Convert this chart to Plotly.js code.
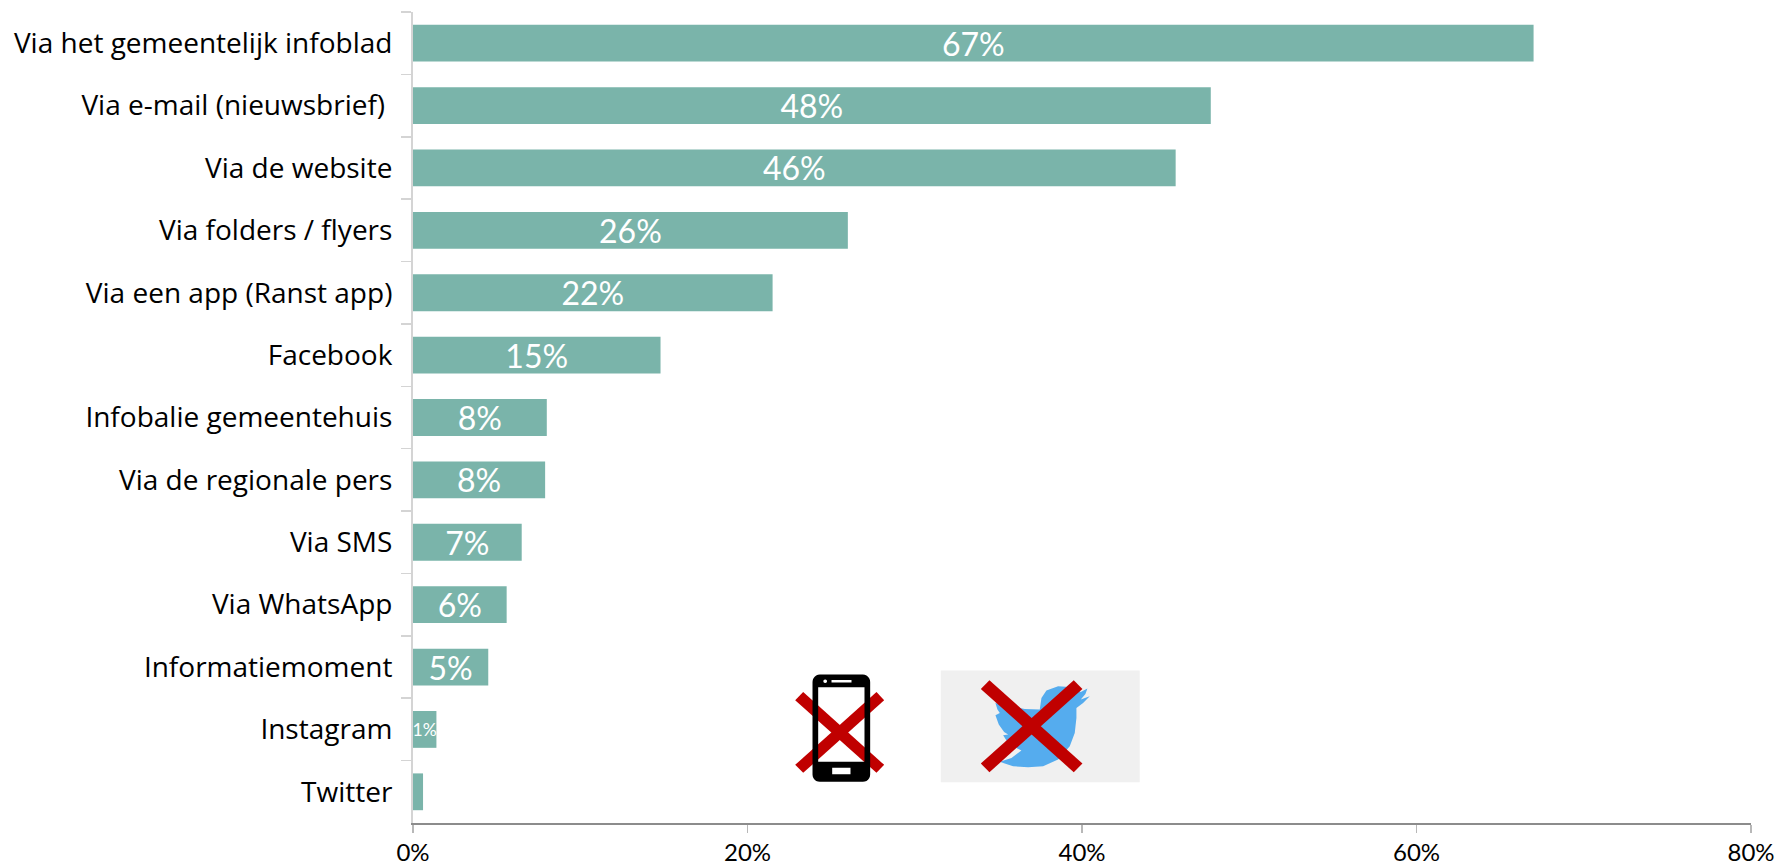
<!DOCTYPE html>
<html>
<head>
<meta charset="utf-8">
<script src="https://cdn.plot.ly/plotly-3.0.1.min.js"></script>
<style>html,body{margin:0;padding:0;background:#fff}#chart{width:1777px;height:868px}</style>
</head>
<body>
<div id="chart"></div>
<script>
const categories = ["Via het gemeentelijk infoblad","Via e-mail (nieuwsbrief)\u00a0","Via de website","Via folders / flyers","Via een app (Ranst app)","Facebook","Infobalie gemeentehuis","Via de regionale pers","Via SMS","Via WhatsApp","Informatiemoment","Instagram","Twitter"];
const values = [67.0,47.7,45.6,26.0,21.5,14.8,8.0,7.9,6.5,5.6,4.5,1.4,0.6];
const valueLabels = ["67%","48%","46%","26%","22%","15%","8%","8%","7%","6%","5%","1%",""];
const labelSizes = [32,32,32,32,32,32,32,32,32,32,32,17.5,17.5];
const xTicks = [0,20,40,60,80];
const xTickLabels = ["0%","20%","40%","60%","80%"];

const W = 1777, H = 868;
const M = {l:413, r:25.5, t:12, b:44.5};

// Decorative icons, described in page pixels and converted to paper coordinates
const px = (x,y) => ((x-M.l)/(W-M.l-M.r)).toFixed(5)+","+((H-M.b-y)/(H-M.t-M.b)).toFixed(5);
function poly(pts){return "M"+pts.map(p=>px(p[0],p[1])).join("L")+"Z";}
const z = (ox,oy) => (p => [ox+p[0]/3, oy+p[1]/3]);
function rectPts(x0,y0,x1,y1){return [[x0,y0],[x1,y0],[x1,y1],[x0,y1]];}
function roundRect(x0,y0,x1,y1,r){
  const pts=[];
  const corners=[[x1-r,y0+r,-90],[x1-r,y1-r,0],[x0+r,y1-r,90],[x0+r,y0+r,180]];
  corners.forEach(c=>{for(let a=0;a<=90;a+=15){const t=(c[2]+a)*Math.PI/180;pts.push([c[0]+r*Math.cos(t),c[1]+r*Math.sin(t)]);}});
  return pts;
}
function circle(cx,cy,r){const pts=[];for(let a=0;a<360;a+=30){const t=a*Math.PI/180;pts.push([cx+r*Math.cos(t),cy+r*Math.sin(t)]);}return pts;}
const z1 = z(780,650), z5 = z(975,675), z6 = z(790,665);
const red = "#C00000";
function shape(path,color,extra){return Object.assign({type:"path",xref:"paper",yref:"paper",path:path,fillcolor:color,line:{width:0},layer:"above"},extra||{});}

const birdPts = [[338,42],[318,52],[296,38],[250,35],[215,48],[200,70],[195,105],[150,103],[105,95],[62,85],[68,105],[75,115],[62,122],[72,150],[88,172],[100,180],[85,182],[100,205],[125,220],[140,228],[110,250],[75,262],[115,275],[160,278],[205,275],[250,255],[285,215],[300,175],[305,130],[305,100],[325,85],[345,65],[318,75],[332,58]].map(z5);

const cross1 = [
  [[46,152],[70,127],[313,346],[290,370]],
  [[290,127],[313,152],[70,370],[46,346]]
].map(a=>a.map(z1));
const cross2 = [
  [[603,118],[629,92],[908,342],[882,368]],
  [[882,92],[908,118],[629,368],[603,342]]
].map(a=>a.map(z1));

const phonePath = poly(roundRect(68,30,241,352,22).map(z6))
  + poly(rectPts(85,68,224,292).map(z6))
  + poly(rectPts(125,46,185,54).map(z6))
  + poly(circle(106,50,5.5).map(z6))
  + poly(rectPts(127,310,182,329).map(z6));

const shapes = [
  shape(poly(cross1[0]),red),
  shape(poly(cross1[1]),red),
  shape(phonePath,"#000000",{fillrule:"evenodd"}),
  shape(poly(rectPts(941,671,1140,782.7)),"#F0F0F0"),
  shape(poly(birdPts),"#55ACEE"),
  shape(poly(cross2[0]),red),
  shape(poly(cross2[1]),red)
];

const font = "Lato, 'Open Sans', sans-serif";
const catFont = "'Open Sans', Lato, sans-serif";
Plotly.newPlot("chart",[{
  type:"bar",
  orientation:"h",
  y:categories,
  x:values,
  text:valueLabels,
  texttemplate:"%{text}",
  textposition:"inside",
  insidetextanchor:"middle",
  textangle:0,
  constraintext:"none",
  textfont:{family:font,size:labelSizes,color:"#FFFFFF"},
  marker:{color:"#7AB4AA",line:{width:0}},
  hoverinfo:"skip"
}],{
  width:W,height:H,
  margin:M,
  paper_bgcolor:"#FFFFFF",plot_bgcolor:"#FFFFFF",
  showlegend:false,
  bargap:0.41,
  font:{family:font,color:"#000000"},
  xaxis:{
    range:[0,80],tickmode:"array",tickvals:xTicks,ticktext:xTickLabels,
    showgrid:false,zeroline:false,showline:true,linecolor:"#8C8C8C",linewidth:1.5,
    ticks:"outside",ticklen:8,tickwidth:1.5,tickcolor:"#B8B8B8",
    tickfont:{family:font,size:24,color:"#000000"}
  },
  yaxis:{
    type:"category",autorange:"reversed",tickson:"boundaries",
    showgrid:false,zeroline:false,showline:true,linecolor:"#D4D4D4",linewidth:2,
    ticks:"outside",ticklen:10,tickwidth:1.5,tickcolor:"#D4D4D4",
    ticklabelstandoff:13,
    tickfont:{family:catFont,size:28,color:"#000000"}
  },
  shapes:shapes
},{displayModeBar:false,staticPlot:true});
</script>
</body>
</html>
